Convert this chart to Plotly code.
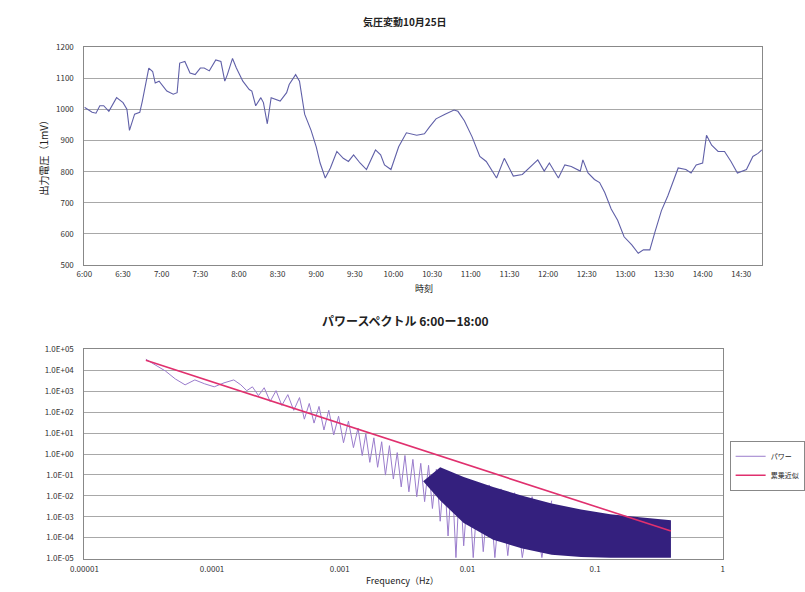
import plotly.graph_objects as go

# ---------------- top chart data (time series) ----------------
times = ["06:00","06:06","06:09","06:12","06:15","06:19","06:25","06:30","06:33","06:35",
         "06:39","06:43","06:45","06:50","06:53","06:55","06:58","07:01","07:04","07:09",
         "07:12","07:14","07:18","07:22","07:26","07:30","07:33","07:37","07:42","07:46",
         "07:49","07:51","07:55","07:58","08:03","08:08","08:10","08:13","08:17","08:19",
         "08:22","08:25","08:29","08:32","08:37","08:39","08:44","08:47","08:51","08:56",
         "09:00","09:03","09:07","09:11","09:16","09:21","09:25","09:29","09:34","09:39",
         "09:46","09:50","09:53","09:58","10:04","10:10","10:18","10:24","10:28","10:33",
         "10:40","10:47","10:50","10:55","11:01","11:07","11:12","11:20","11:26","11:33",
         "11:40","11:47","11:52","11:57","12:01","12:08","12:13","12:18","12:25","12:27",
         "12:31","12:36","12:40","12:44","12:49","12:54","12:59","13:05","13:10","13:14",
         "13:19","13:23","13:28","13:33","13:38","13:41","13:47","13:51","13:55","14:00",
         "14:03","14:07","14:12","14:17","14:22","14:27","14:34","14:39","14:43","14:46"]
voltage = [1007, 991, 988, 1012, 1012, 994, 1038, 1022, 1001, 933,
           985, 991, 1027, 1133, 1122, 1085, 1091, 1075, 1059, 1049,
           1054, 1149, 1154, 1117, 1112, 1133, 1133, 1124, 1159, 1154,
           1091, 1112, 1164, 1133, 1091, 1064, 1059, 1012, 1038, 1022,
           954, 1038, 1033, 1027, 1054, 1080, 1112, 1091, 985, 933,
           880, 828, 780, 812, 865, 843, 833, 854, 828, 807,
           870, 854, 822, 807, 880, 925, 917, 922, 944, 970,
           985, 998, 994, 964, 912, 849, 833, 780, 843, 786,
           791, 817, 838, 802, 828, 780, 822, 817, 802, 838,
           796, 775, 765, 733, 680, 644, 591, 565, 538, 549,
           549, 607, 675, 723, 775, 812, 807, 796, 822, 828,
           917, 885, 865, 865, 833, 796, 807, 849, 859, 870]

# ---------------- bottom chart data (power spectrum) ----------------
spec_freq = [3.03e-5, 3.62e-5, 4.32e-5, 5.15e-5, 6.15e-5, 7.33e-5, 8.75e-5, 1.04e-4, 1.24e-4, 1.48e-4,
             1.68e-4, 1.87e-4, 2.07e-4, 2.31e-4, 2.56e-4, 2.85e-4, 3.17e-4, 3.52e-4, 3.92e-4, 4.36e-4,
             4.84e-4, 5.28e-4, 5.77e-4, 6.29e-4, 6.88e-4, 7.52e-4, 8.20e-4, 8.97e-4, 9.79e-4, 1.07e-3,
             1.17e-3, 1.28e-3, 1.39e-3, 1.50e-3, 1.60e-3, 1.72e-3, 1.85e-3, 1.98e-3, 2.13e-3, 2.28e-3,
             2.45e-3, 2.63e-3, 2.82e-3, 3.03e-3, 3.24e-3, 3.48e-3, 3.74e-3, 4.01e-3, 4.31e-3, 4.62e-3,
             4.96e-3, 5.32e-3, 5.71e-3, 6.12e-3, 6.58e-3, 7.05e-3, 7.57e-3, 8.13e-3, 8.71e-3, 9.35e-3,
             0.0102, 0.0111, 0.0122, 0.0133, 0.0148, 0.0164, 0.0183, 0.0207, 0.0234, 0.0269,
             0.0321, 0.0383, 0.0457]
spec_power = [3.40e4, 1.78e4, 9.27e3, 3.91e3, 2.04e3, 3.51e3, 2.28e3, 1.64e3, 2.54e3, 3.51e3,
              2.04e3, 1.07e3, 1.64e3, 621, 1.48e3, 325, 1.07e3, 211, 692, 123,
              501, 46.4, 262, 30.1, 189, 14.1, 123, 8.22, 64.3, 3.47,
              37.4, 2.02, 17.5, 0.851, 9.17, 0.399, 5.96, 0.232, 3.86, 0.098,
              2.51, 0.0635, 1.17, 0.0267, 0.851, 0.0156, 0.552, 0.00907, 0.358, 0.00528,
              0.288, 0.00248, 0.187, 6.08e-4, 0.135, 1.20e-4, 0.098, 1.11e-5, 0.0789, 4.07e-5,
              0.0635, 1.11e-5, 0.0412, 2.13e-5, 0.0332, 1.11e-5, 0.0215, 1.38e-5, 0.0140, 1.11e-5,
              0.00907, 1.11e-5, 0.00589]

# dense high-frequency band (upper / lower envelope of the spectrum)
band_freq = [4.5e-3, 6.12e-3, 9.35e-3, 0.0159, 0.0269, 0.0457, 0.0776, 0.1315, 0.2234, 0.3926]
band_upper = [0.05, 0.232, 0.0789, 0.0267, 0.0101, 0.00426, 0.00222, 0.0013, 9.37e-4, 6.78e-4]
band_lower = [0.05, 6e-3, 5e-4, 8e-5, 3e-5, 1.5e-5, 1.2e-5, 1.1e-5, 1.1e-5, 1.1e-5]

# power-law trend line end points
trend_freq = [3.03e-5, 0.3926]
trend_power = [3.05e4, 2.07e-4]

# tick labels
spec_x_ticks = [1e-5, 1e-4, 1e-3, 1e-2, 1e-1, 1]
spec_x_text = ["0.00001", "0.0001", "0.001", "0.01", "0.1", "1"]
spec_y_ticks = [1e5, 1e4, 1e3, 1e2, 1e1, 1e0, 1e-1, 1e-2, 1e-3, 1e-4, 1e-5]
spec_y_text = ["1.0E+05", "1.0E+04", "1.0E+03", "1.0E+02", "1.0E+01", "1.0E+00",
               "1.0E-01", "1.0E-02", "1.0E-03", "1.0E-04", "1.0E-05"]

DATE = "2000-10-25 "
FONT = "Noto Sans CJK JP"
GRID = "#a8a8a8"
W, H = 805, 592

def px_x(x):
    return x / W

def px_y(y):
    return 1 - y / H

fig = go.Figure()

fig.add_trace(go.Scatter(
    x=[DATE + t for t in times], y=voltage, mode="lines",
    line=dict(color="#6060a8", width=1.1), showlegend=False,
    xaxis="x", yaxis="y"))

fig.add_trace(go.Scatter(
    x=spec_freq, y=spec_power, mode="lines", name="パワー",
    line=dict(color="#9a7ccc", width=1), xaxis="x2", yaxis="y2"))
fig.add_trace(go.Scatter(
    x=band_freq, y=band_upper, mode="lines", line=dict(width=0, color="#34207e"),
    showlegend=False, xaxis="x2", yaxis="y2", hoverinfo="skip"))
fig.add_trace(go.Scatter(
    x=band_freq, y=band_lower, mode="lines", line=dict(width=0, color="#34207e"),
    fill="tonexty", fillcolor="#34207e",
    showlegend=False, xaxis="x2", yaxis="y2", hoverinfo="skip"))
fig.add_trace(go.Scatter(
    x=trend_freq, y=trend_power, mode="lines", name="累乗近似",
    line=dict(color="#e0306e", width=1.6), xaxis="x2", yaxis="y2"))

axis_common = dict(showline=True, linecolor="#888888", linewidth=1, mirror=True,
                   ticks="", tickfont=dict(size=8, color="#333333", family=FONT))

fig.update_layout(
    width=W, height=H, margin=dict(l=0, r=0, t=0, b=0),
    paper_bgcolor="white", plot_bgcolor="white",
    font=dict(family=FONT, color="#222222"),
    xaxis=dict(domain=[px_x(72), px_x(765)], anchor="y", type="date",
               range=[DATE + "06:00", DATE + "14:46"],
               tick0=DATE + "06:00", dtick=30 * 60 * 1000, tickformat="%-H:%M",
               showgrid=False, ticklabelstandoff=1, **axis_common),
    yaxis=dict(domain=[px_y(264), px_y(42)], anchor="x", range=[500, 1200], dtick=100,
               showgrid=True, gridcolor=GRID, gridwidth=1, ticklabelstandoff=8, **axis_common),
    xaxis2=dict(domain=[px_x(72), px_x(725)], anchor="y2", type="log", range=[-5, 0],
                tickvals=spec_x_ticks, ticktext=spec_x_text, showgrid=False,
                ticklabelstandoff=3, **axis_common),
    yaxis2=dict(domain=[px_y(563), px_y(350)], anchor="x2", type="log", range=[-5, 5],
                tickvals=spec_y_ticks, ticktext=spec_y_text, ticklabelstandoff=8,
                showgrid=True, gridcolor=GRID, gridwidth=1, **axis_common),
    legend=dict(x=px_x(732), y=px_y(443), xanchor="left", yanchor="top",
                bordercolor="#888888", borderwidth=1, bgcolor="white", traceorder="normal",
                font=dict(size=7, family=FONT), tracegroupgap=0, itemwidth=30),
)

annotations = [
    dict(text="<b>気圧変動10月25日</b>", x=px_x(400), y=px_y(16), font=dict(size=10)),
    dict(text="出力電圧（1mV）", x=px_x(30), y=px_y(152), textangle=-90, font=dict(size=10)),
    dict(text="時刻", x=px_x(419), y=px_y(288), font=dict(size=9)),
    dict(text="<b>パワースペクトル 6:00ー18:00</b>", x=px_x(400), y=px_y(320), font=dict(size=12)),
    dict(text="Frequency（Hz）", x=px_x(397), y=px_y(585), font=dict(size=9)),
]
for a in annotations:
    a.update(xref="paper", yref="paper", showarrow=False, xanchor="center", yanchor="middle")
fig.update_layout(annotations=annotations)

fig.write_html("out.html")
